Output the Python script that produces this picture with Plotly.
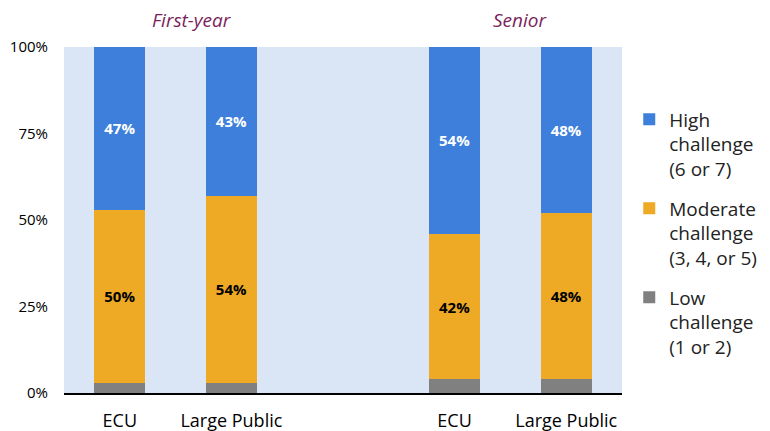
import plotly.graph_objects as go

# data
categories = ["ECU", "Large Public", "ECU", "Large Public"]
positions = [0, 1, 3, 4]          # gap between the two groups
low = [3, 3, 4, 4]
moderate = [50, 54, 42, 48]
high = [47, 43, 54, 48]
groups = ["First-year", "Senior"]

blue = "#3D7FDB"
orange = "#EEAA24"
gray = "#808080"
font = "Open Sans"

fig = go.Figure()
fig.add_bar(x=positions, y=[v / 100 for v in low], name="Low<br>challenge<br>(1 or 2)",
            legendgroup="low", legendrank=3, marker=dict(color=gray, line=dict(width=0)),
            width=0.46, hoverinfo="skip")
fig.add_bar(x=positions, y=[v / 100 for v in moderate], name="Moderate<br>challenge<br>(3, 4, or 5)",
            legendgroup="mod", legendrank=2, marker=dict(color=orange, line=dict(width=0)),
            width=0.46, text=[f"<b>{v}%</b>" for v in moderate], textposition="inside",
            insidetextanchor="middle", textfont=dict(color="black", size=15, family=font))
fig.add_bar(x=positions, y=[v / 100 for v in high], name="High<br>challenge<br>(6 or 7)",
            legendgroup="high", legendrank=1, marker=dict(color=blue, line=dict(width=0)),
            width=0.46, text=[f"<b>{v}%</b>" for v in high], textposition="inside",
            insidetextanchor="middle", textfont=dict(color="white", size=15, family=font))

# the page body adds an 8px offset, so margins are shifted by 8px;
# the figure is a bit wider than the window so the legend never squeezes the plot
fig.update_layout(
    barmode="stack",
    width=790, height=431,
    margin=dict(l=56, r=176, t=39, b=46),
    paper_bgcolor="white",
    plot_bgcolor="#DAE5F6",
    font=dict(family=font, size=15, color="black"),
    showlegend=True,
    legend=dict(x=1.013, y=0.846, xanchor="left", yanchor="top",
                traceorder="grouped",
                font=dict(size=19, color="#222222"), valign="top", tracegroupgap=12,
                itemwidth=30),
    uniformtext=dict(mode="show", minsize=12),
)
fig.update_xaxes(tickvals=positions, ticktext=categories, range=[-0.5, 4.5],
                 showgrid=False, zeroline=False, showline=True, linecolor="black",
                 linewidth=2, ticks="", tickfont=dict(size=18), ticklabelstandoff=10,
                 automargin=False)
fig.update_yaxes(range=[0, 1], tickvals=[0, 0.25, 0.5, 0.75, 1],
                 ticktext=["0%", "25%", "50%", "75%", "100%"], showgrid=False,
                 zeroline=False, ticks="", tickfont=dict(size=15), ticklabelstandoff=15,
                 automargin=False)

for label, xp in zip(groups, [0.229, 0.817]):
    fig.add_annotation(text=f"<i>{label}</i>", x=xp, y=1.078, xref="paper", yref="paper",
                       xanchor="center", yanchor="middle", showarrow=False,
                       font=dict(size=19, color="#7B1F5C"))

fig.write_html("out.html")
